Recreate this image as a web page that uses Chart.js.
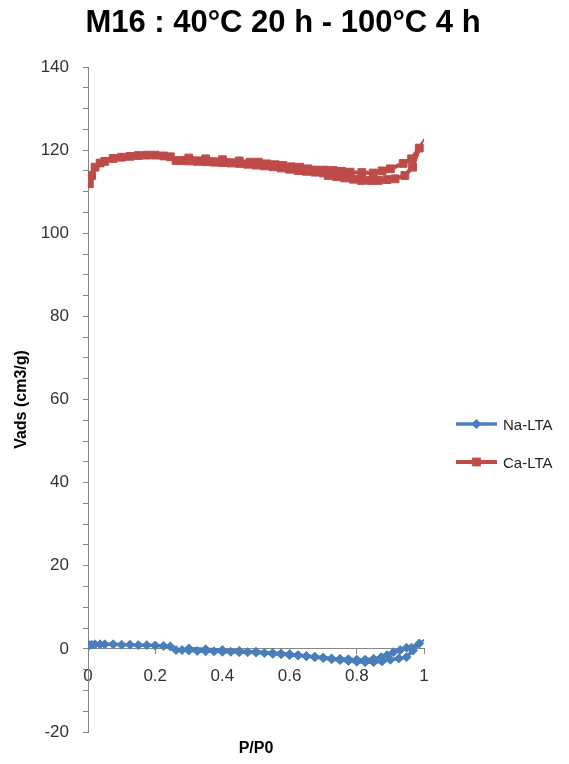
<!DOCTYPE html>
<html>
<head>
<meta charset="utf-8">
<script src="https://cdn.jsdelivr.net/npm/chart.js@4.4.0/dist/chart.umd.min.js"></script>
<style>
  body { margin: 0; background: #fff; }
  #wrap { width: 569px; height: 764px; }
</style>
</head>
<body>
<div id="wrap"><canvas id="grafica" width="569" height="764"></canvas></div>
<script>
const titulo = "M16 : 40°C 20 h - 100°C 4 h";
const tituloX = "P/P0";
const tituloY = "Vads (cm3/g)";

// Na-LTA: adsorcion y luego desorcion
const naAdsX = [0.004, 0.011, 0.021, 0.036, 0.05, 0.075, 0.1, 0.125, 0.15, 0.175, 0.2, 0.225, 0.245, 0.262, 0.28, 0.3, 0.325, 0.35, 0.375, 0.4, 0.425, 0.45, 0.475, 0.5, 0.525, 0.55, 0.575, 0.6, 0.625, 0.65, 0.675, 0.7, 0.725, 0.75, 0.775, 0.8, 0.825, 0.85, 0.875, 0.9, 0.925, 0.948, 0.967, 0.986];
const naAdsY = [0.9, 1.0, 1.1, 1.1, 1.1, 1.1, 1.0, 1.0, 0.9, 0.9, 0.8, 0.7, 0.6, -0.3, -0.3, -0.4, -0.5, -0.6, -0.6, -0.7, -0.7, -0.8, -0.8, -0.9, -1.0, -1.2, -1.3, -1.5, -1.6, -1.8, -2.0, -2.2, -2.5, -2.7, -2.9, -3.1, -3.2, -3.2, -3.0, -2.6, -2.3, -2.0, -0.4, 1.3];
const naDesX = [0.963, 0.948, 0.929, 0.909, 0.89, 0.873, 0.85, 0.825, 0.8, 0.775, 0.75, 0.725, 0.7, 0.675, 0.65, 0.625, 0.6, 0.575, 0.55, 0.5, 0.45, 0.4, 0.35, 0.3];
const naDesY = [0.3, 0.3, -0.3, -0.8, -1.5, -2.0, -2.4, -2.6, -2.6, -2.5, -2.4, -2.3, -2.1, -1.9, -1.7, -1.5, -1.3, -1.1, -1.0, -0.7, -0.5, -0.3, -0.1, 0.1];

// Ca-LTA: adsorcion y luego desorcion
const caAdsX = [0.004, 0.011, 0.021, 0.036, 0.05, 0.075, 0.1, 0.125, 0.15, 0.175, 0.2, 0.225, 0.245, 0.262, 0.28, 0.3, 0.325, 0.35, 0.375, 0.4, 0.425, 0.45, 0.475, 0.5, 0.525, 0.55, 0.575, 0.6, 0.625, 0.65, 0.675, 0.7, 0.715, 0.74, 0.764, 0.79, 0.814, 0.84, 0.864, 0.89, 0.914, 0.943, 0.966, 0.986];
const caAdsY = [111.9, 113.9, 115.9, 116.9, 117.3, 118.0, 118.3, 118.5, 118.7, 118.8, 118.8, 118.6, 118.4, 117.5, 117.5, 117.4, 117.3, 117.2, 117.1, 117.0, 116.9, 116.8, 116.6, 116.4, 116.2, 116.0, 115.7, 115.4, 115.1, 114.9, 114.7, 114.5, 113.9, 113.6, 113.3, 113.0, 112.7, 112.7, 112.7, 112.9, 113.1, 113.9, 115.9, 120.5];
const caDesX = [0.963, 0.938, 0.9, 0.875, 0.849, 0.815, 0.78, 0.755, 0.73, 0.705, 0.68, 0.655, 0.63, 0.605, 0.58, 0.557, 0.532, 0.507, 0.482, 0.45, 0.4, 0.35, 0.3];
const caDesY = [117.9, 116.8, 115.5, 115.0, 114.5, 114.6, 114.7, 114.9, 115.1, 115.2, 115.2, 115.5, 115.9, 116.0, 116.3, 116.5, 116.7, 117.1, 117.1, 117.4, 117.7, 117.9, 118.1];

const azul = "#4A7EBB";
const rojo = "#BE4B48";
const gris = "#868686";
const fuente = "'Liberation Sans', Arial, sans-serif";

const toPts = (xs, ys) => xs.map((x, i) => ({ x: x, y: ys[i] }));

// titulo, titulo del eje X y leyenda
const textosExtra = {
  id: "textosExtra",
  afterDraw(chart) {
    const c = chart.ctx;
    const area = chart.chartArea;
    c.save();
    c.fillStyle = "#000";
    c.textAlign = "center";
    c.textBaseline = "alphabetic";
    c.font = "bold 31px " + fuente;
    c.fillText(titulo, 283, 32);
    c.font = "bold 16px " + fuente;
    c.fillText(tituloX, (area.left + area.right) / 2, 753);

    chart.data.datasets.forEach((ds, i) => {
      const y = 424 + i * 38;
      c.strokeStyle = ds.borderColor;
      c.fillStyle = ds.borderColor;
      c.lineWidth = ds.borderWidth;
      c.beginPath();
      c.moveTo(456, y);
      c.lineTo(497, y);
      c.stroke();
      c.beginPath();
      if (ds.pointStyle === "rectRot") {
        const r = ds.pointRadius + 0.5;
        c.moveTo(476.5, y - r);
        c.lineTo(476.5 + r, y);
        c.lineTo(476.5, y + r);
        c.lineTo(476.5 - r, y);
        c.closePath();
      } else {
        const s = ds.pointRadius * Math.SQRT1_2 + 0.5;
        c.rect(476.5 - s, y - s, 2 * s, 2 * s);
      }
      c.fill();
      c.fillStyle = "#222";
      c.textAlign = "left";
      c.font = "15px " + fuente;
      c.fillText(ds.label, 503, y + 5.5);
    });
    c.restore();
  },
};

const canvas = document.getElementById("grafica");
const ctx = canvas.getContext("2d");

new Chart(ctx, {
  type: "scatter",
  data: {
    datasets: [
      {
        label: "Na-LTA",
        data: toPts(naAdsX.concat(naDesX), naAdsY.concat(naDesY)),
        showLine: true,
        borderColor: azul,
        backgroundColor: azul,
        borderWidth: 3.5,
        pointStyle: "rectRot",
        pointRadius: 4.5,
        pointBorderWidth: 1,
      },
      {
        label: "Ca-LTA",
        data: toPts(caAdsX.concat(caDesX), caAdsY.concat(caDesY)),
        showLine: true,
        borderColor: rojo,
        backgroundColor: rojo,
        borderWidth: 4,
        pointStyle: "rect",
        pointRadius: 5.5,
        pointBorderWidth: 1,
      },
    ],
  },
  options: {
    responsive: false,
    animation: false,
    layout: { padding: { top: 67, right: 145, bottom: 32, left: 0 } },
    plugins: {
      legend: { display: false },
      tooltip: { enabled: false },
      title: { display: false },
    },
    scales: {
      x: {
        type: "linear",
        position: { y: 0 },
        min: 0,
        max: 1,
        ticks: {
          stepSize: 0.2,
          color: "#333",
          padding: 12,
          font: { family: fuente, size: 17 },
          callback: (v) => String(Math.round(v * 10) / 10),
        },
        grid: { drawOnChartArea: false, tickLength: 5, color: gris },
        border: { color: gris, width: 1 },
      },
      y: {
        type: "linear",
        position: "left",
        min: -20,
        max: 140,
        afterFit: (s) => { s.width = 88; },
        ticks: {
          stepSize: 5,
          autoSkip: false,
          color: "#333",
          padding: 14,
          font: { family: fuente, size: 17 },
          callback: (v) => (v % 20 === 0 ? v : ""),
        },
        grid: { drawOnChartArea: false, tickLength: 5, color: gris },
        border: { color: gris, width: 1 },
        title: {
          display: true,
          text: tituloY,
          color: "#000",
          font: { family: fuente, size: 16, weight: "bold" },
          padding: { top: 12, bottom: 0 },
        },
      },
    },
  },
  plugins: [textosExtra],
});
</script>
</body>
</html>
